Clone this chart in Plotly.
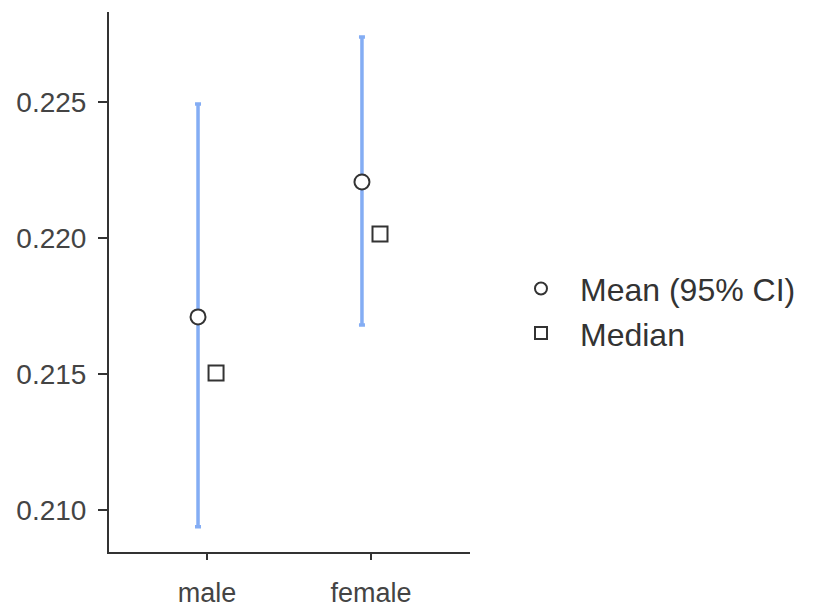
import plotly.graph_objects as go

categories = ["male", "female"]
mean_vals = [0.21710, 0.22206]
ci_upper = [0.22493, 0.22739]
ci_lower = [0.20938, 0.21680]
median_vals = [0.21504, 0.22015]
y_ticks = [0.210, 0.215, 0.220, 0.225]
y_tick_labels = ["0.210", "0.215", "0.220", "0.225"]

dodge = 0.055
xi = list(range(len(categories)))
x_mean = [i - dodge for i in xi]
x_median = [i + dodge for i in xi]
err_plus = [u - m for u, m in zip(ci_upper, mean_vals)]
err_minus = [m - l for m, l in zip(mean_vals, ci_lower)]

AX = "#333333"
TXT = "#444444"
BAR = "#84adf4"
FONT = "Liberation Sans, Arial, sans-serif"

fig = go.Figure()
fig.add_trace(go.Scatter(
    x=x_mean, y=mean_vals, mode="markers", showlegend=False,
    marker=dict(symbol="circle", size=15, color="white", line=dict(color=AX, width=2)),
    error_y=dict(type="data", array=err_plus, arrayminus=err_minus,
                 color=BAR, thickness=3.5, width=3),
))
fig.add_trace(go.Scatter(
    x=x_median, y=median_vals, mode="markers", showlegend=False,
    marker=dict(symbol="square", size=15, color="white", line=dict(color=AX, width=2)),
))
# legend entries
fig.add_trace(go.Scatter(
    x=[None], y=[None], mode="markers", name="Mean (95% CI)",
    marker=dict(symbol="circle", size=12, color="white", line=dict(color=AX, width=2)),
))
fig.add_trace(go.Scatter(
    x=[None], y=[None], mode="markers", name="Median",
    marker=dict(symbol="square", size=12, color="white", line=dict(color=AX, width=2)),
))

# page body has an 8px margin, so the figure is offset by 8px; compensate in margins
fig.update_layout(
    width=819, height=610,
    margin=dict(l=101, r=357, t=4, b=66, autoexpand=False),
    paper_bgcolor="white", plot_bgcolor="white",
    font=dict(family=FONT, color=TXT),
    legend=dict(x=1.0886, y=0.446, xanchor="left", yanchor="middle",
                font=dict(size=32, color="#333333"), bgcolor="rgba(0,0,0,0)",
                tracegroupgap=0, itemwidth=68),
    xaxis=dict(range=[-0.598, 1.604], tickmode="array", tickvals=xi, ticktext=categories,
               showgrid=False, zeroline=False, showline=True, linecolor=AX, linewidth=2,
               ticks="outside", ticklen=6, tickwidth=2, tickcolor=AX, automargin=False,
               tickfont=dict(size=27, color=TXT), ticklabelstandoff=10),
    yaxis=dict(range=[0.208456, 0.228309], tickmode="array", tickvals=y_ticks,
               ticktext=y_tick_labels, automargin=False,
               showgrid=False, zeroline=False, showline=True, linecolor=AX, linewidth=2,
               ticks="outside", ticklen=9, tickwidth=2, tickcolor=AX,
               tickfont=dict(size=28, color=TXT), ticklabelstandoff=6),
)

fig.write_html("out.html")
